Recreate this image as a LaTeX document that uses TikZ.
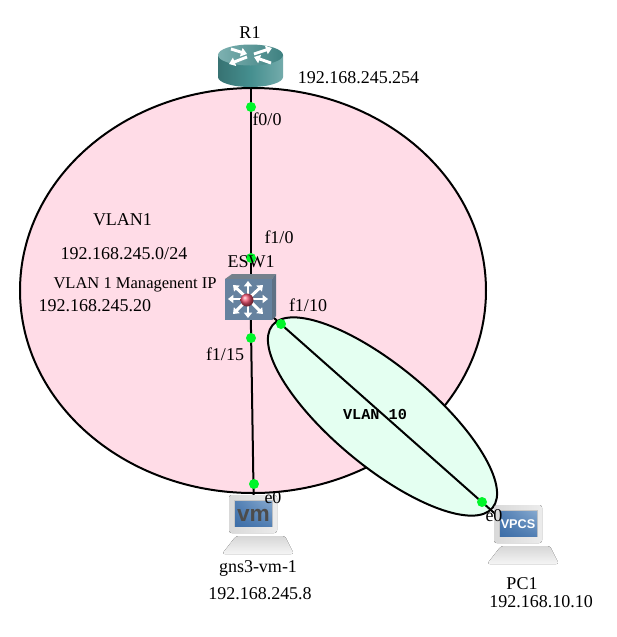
\documentclass[tikz,border=0pt]{standalone}
\usepackage{fontspec}
\setmainfont{Liberation Serif}
\setmonofont{Liberation Mono}
\newfontfamily\iconfont{Liberation Sans}
\usetikzlibrary{arrows.meta,shadings}
\definecolor{vlanpink}{HTML}{FFDCE7}
\definecolor{vlangreen}{HTML}{E4FFF1}
\definecolor{dotgreen}{HTML}{00F52A}
\definecolor{routerteal}{HTML}{458F8F}
\definecolor{switchblue}{HTML}{66829F}
\definecolor{screendark}{HTML}{3D6EA8}
\definecolor{screenlight}{HTML}{86A9CF}
\definecolor{ledred}{HTML}{F0506E}
\tikzset{
  x=0.75pt,y=-0.75pt,
  zone/.style={draw=black,line width=1.5pt},
  link/.style={draw=black,line width=1.5pt},
  port/.style={circle,fill=dotgreen,inner sep=0pt,minimum size=7.5pt},
  lbl/.style={font=\fontsize{13.5pt}{15pt}\selectfont,inner sep=0pt,text=black},
  anchorpt/.style={inner sep=0pt,minimum size=0pt},
  whitearrow/.style={draw=white,line width=2.2pt,-{Triangle[width=6pt,length=4pt]}},
  routerarrow/.style={draw=white,line width=2.2pt,-{Triangle[width=6.5pt,length=4.5pt]}}
}
\newcommand{\monitor}[2]{%
  \begin{scope}[shift={(#1,#2)}]
    \fill[rounded corners=2pt,left color=gray!30,right color=gray!15] (0,0) rectangle (48,38);
    \fill[top color=gray!32,bottom color=gray!8,rounded corners=2pt] (7,41) -- (56,41) -- (65,59) -- (-7,59) -- cycle;
    \fill[gray!45] (5,5) rectangle (44,32);
    \shade[lower left=screendark,upper right=screenlight,lower right=screendark!70!screenlight,upper left=screendark!70!screenlight] (6,6) rectangle (43,31);
  \end{scope}}
\begin{document}
\begin{tikzpicture}
\useasboundingbox (0,0) rectangle (617,637);
\fill[white] (0,0) rectangle (617,637);
% zones
\draw[zone,fill=vlanpink] (253,290.5) ellipse [x radius=233,y radius=202.5];
\draw[zone,fill=vlangreen,rotate around={-39.7:(382.5,416.5)}] (382.5,416.5) ellipse [x radius=143,y radius=50];
% anchors at device centres
\node[anchorpt] (r1) at (250.5,66) {};
\node[anchorpt] (esw) at (250.5,298) {};
\node[anchorpt] (vm) at (254,520) {};
\node[anchorpt] (pc) at (518,534) {};
\node[anchorpt] (eswb) at (248,295) {};
% connectors
\draw[link] (r1) -- (esw);
\draw[link] (esw) -- (vm);
\draw[link] (eswb) -- (pc);
% router
\shade[left color=routerteal!80!black,right color=routerteal!75!white,middle color=routerteal] (218,55) -- (218,77) arc[start angle=180,end angle=0,x radius=32.5,y radius=10] -- (283,55) -- cycle;
\shade[left color=routerteal!70!white,right color=routerteal!90!black] (250.5,55) ellipse [x radius=32.5,y radius=10.5];
\draw[routerarrow] (247,57) -- (229,64);
\draw[routerarrow] (231,49) -- (247,54);
\draw[routerarrow] (254,54) -- (272,48);
\draw[routerarrow] (271,63) -- (254,57);
% switch
\fill[gray!60!switchblue] (225,279) -- (232,274) -- (276,274) -- (272,279) -- cycle;
\fill[switchblue!75!black!90] (272,279) -- (276,274) -- (276,316) -- (272,320) -- cycle;
\fill[switchblue] (225,279) rectangle (272,320);
\draw[whitearrow] (248,299) -- (228,299);
\draw[whitearrow] (248,299) -- (268,299);
\draw[whitearrow] (248,299) -- (248,281);
\draw[whitearrow] (248,299) -- (248,318);
\draw[whitearrow] (248,299) -- (233,285);
\draw[whitearrow] (248,299) -- (263,285);
\draw[whitearrow] (248,299) -- (233,314);
\draw[whitearrow] (248,299) -- (263,314);
\shade[ball color=ledred] (247,300) circle [radius=6.5];
% hosts
\monitor{229}{495}
\node[font=\fontsize{17pt}{17pt}\iconfont\bfseries,text=black!70,inner sep=0pt] at (253.5,515) {vm};
\monitor{494}{505}
\node[font=\fontsize{9.5pt}{11pt}\iconfont\bfseries,text=white,inner sep=0pt] at (518,524) {VPCS};
% ports
\node[port] (p1) at (251,107) {};
\node[port] (p2) at (251,258) {};
\node[port] (p3) at (251,338) {};
\node[port] (p4) at (281,324) {};
\node[port] (p5) at (254,484) {};
\node[port] (p6) at (482,502) {};
% labels
\node[lbl] (t1) at (250,33) {R1};
\node[lbl] (t2) at (358.5,78) {192.168.245.254};
\node[lbl] (t3) at (267,119) {f0/0};
\node[lbl] (t4) at (122.5,220) {VLAN1};
\node[lbl] (t5) at (124,254) {192.168.245.0/24};
\node[lbl] (t6) at (279,237) {f1/0};
\node[lbl] (t7) at (251,262) {ESW1};
\node[lbl,font=\fontsize{12.4pt}{15pt}\selectfont] (t8) at (135,285) {VLAN 1 Managenent IP};
\node[lbl] (t9) at (95,306) {192.168.245.20};
\node[lbl] (t10) at (308,305) {f1/10};
\node[lbl] (t11) at (225,354) {f1/15};
\node[lbl,font=\fontsize{11.4pt}{13pt}\ttfamily\bfseries] (t12) at (375,414) {VLAN 10};
\node[lbl] (t13) at (273,498) {e0};
\node[lbl] (t14) at (494,516) {e0};
\node[lbl] (t15) at (258,568) {gns3-vm-1};
\node[lbl] (t16) at (260,594) {192.168.245.8};
\node[lbl] (t17) at (522,584) {PC1};
\node[lbl] (t18) at (541,602) {192.168.10.10};
\end{tikzpicture}
\end{document}
